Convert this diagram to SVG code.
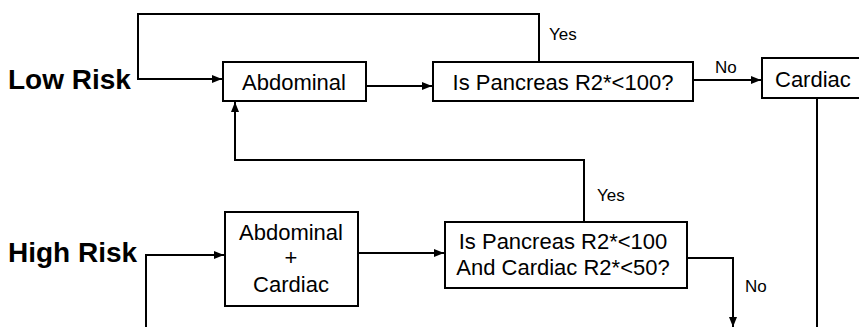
<svg xmlns="http://www.w3.org/2000/svg" width="859" height="327" viewBox="0 0 859 327">
<style>
.box{fill:#fff;stroke:#000;stroke-width:2}
.t{font-family:"Liberation Sans",Arial,sans-serif;font-size:22px;fill:#000}
.lbl{font-family:"Liberation Sans",Arial,sans-serif;font-size:17px;fill:#000}
.risk{font-family:"Liberation Sans",Arial,sans-serif;font-size:28px;font-weight:bold;fill:#000}
.c{fill:none;stroke:#000;stroke-width:2}
</style>
<defs>
<marker id="ah" markerWidth="10" markerHeight="8" refX="10" refY="4" orient="auto" markerUnits="userSpaceOnUse">
<path d="M0,0 L10,4 L0,8 Z" fill="#000"/>
</marker>
</defs>
<rect width="859" height="327" fill="#fff"/>
<g id="connectors">
<path class="c" d="M539,62 V14 H138 V79 H222" marker-end="url(#ah)"/>
<path class="c" d="M366,86 H432" marker-end="url(#ah)"/>
<path class="c" d="M693,80 H761" marker-end="url(#ah)"/>
<path class="c" d="M817,98 V327"/>
<path class="c" d="M584,222 V160 H235 V102" marker-end="url(#ah)"/>
<path class="c" d="M146,327 V255 H224" marker-end="url(#ah)"/>
<path class="c" d="M358,253 H444" marker-end="url(#ah)"/>
<path class="c" d="M687,258 H733 V327" marker-end="url(#ah)"/>
<text class="lbl" x="549" y="40">Yes</text>
<text class="lbl" x="715" y="73">No</text>
<text class="lbl" x="597" y="201">Yes</text>
<text class="lbl" x="745" y="292">No</text>
</g>
<g id="low-risk"><text class="risk" x="8" y="89">Low Risk</text></g>
<g id="high-risk"><text class="risk" x="8" y="262">High Risk</text></g>
<g id="abdominal">
<rect class="box" x="223" y="62" width="143" height="39"/>
<text class="t" x="294" y="90" text-anchor="middle">Abdominal</text>
</g>
<g id="q-low">
<rect class="box" x="433" y="62" width="260" height="39"/>
<text class="t" x="563" y="90" text-anchor="middle">Is Pancreas R2*&lt;100?</text>
</g>
<g id="cardiac">
<rect class="box" x="762" y="58" width="100" height="40"/>
<text class="t" x="775" y="87">Cardiac</text>
</g>
<g id="abd-cardiac">
<rect class="box" x="225" y="212" width="133" height="94"/>
<text class="t" x="291" y="240" text-anchor="middle">Abdominal</text>
<text class="t" x="291" y="265" text-anchor="middle">+</text>
<text class="t" x="291" y="292" text-anchor="middle">Cardiac</text>
</g>
<g id="q-high">
<rect class="box" x="445" y="222" width="242" height="66"/>
<text class="t" x="563" y="249" text-anchor="middle">Is Pancreas R2*&lt;100</text>
<text class="t" x="563" y="275" text-anchor="middle">And Cardiac R2*&lt;50?</text>
</g>
</svg>
